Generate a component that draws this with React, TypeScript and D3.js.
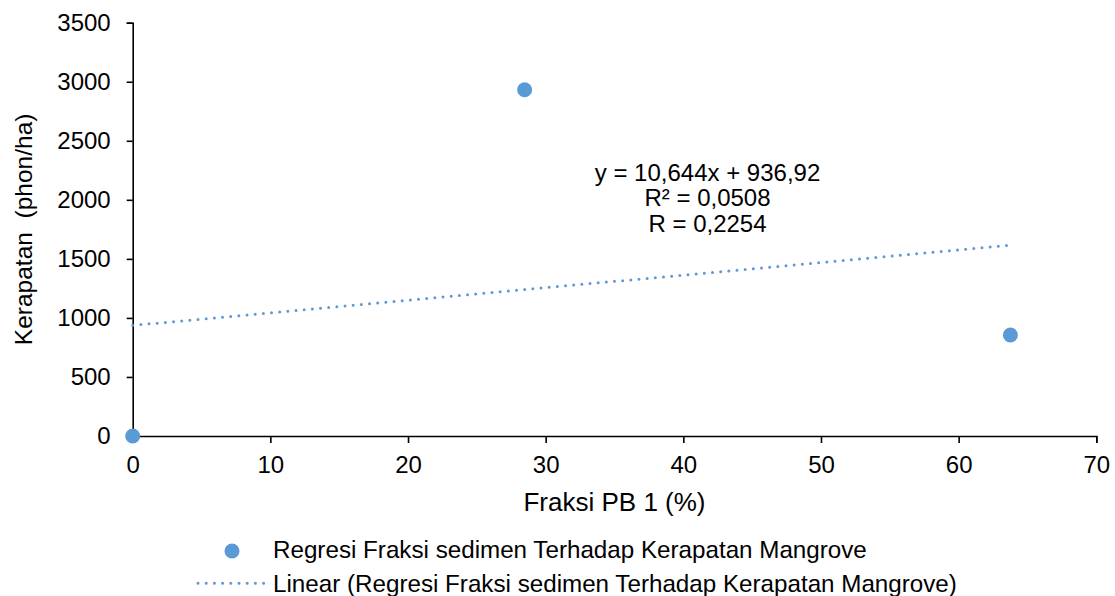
import React, { useEffect, useRef } from 'react';
import * as d3 from 'd3';

// values
const fraksiPB = [0, 28.47, 63.76];
const kerapatan = [0, 2932, 855];
const xTicks = [0, 10, 20, 30, 40, 50, 60, 70];
const yTicks = [0, 500, 1000, 1500, 2000, 2500, 3000, 3500];
const slope = 10.644;
const intercept = 936.92;
const equationLines = ['y = 10,644x + 936,92', 'R² = 0,0508', 'R = 0,2254'];
const legendLabels = [
    'Regresi Fraksi sedimen Terhadap Kerapatan Mangrove',
    'Linear (Regresi Fraksi sedimen Terhadap Kerapatan Mangrove)',
];

const WIDTH = 1115;
const HEIGHT = 596;
const FONT = '"Liberation Sans", Arial, sans-serif';
const BLUE = '#5B9BD5';

const App = () => {
    const svgRef = useRef<SVGSVGElement>(null);

    useEffect(() => {
        const svg = d3.select(svgRef.current);
        svg.selectAll('*').remove();

        const x = d3.scaleLinear().domain([0, 70]).range([132.7, 1096.3]);
        const y = d3.scaleLinear().domain([0, 3500]).range([436, 22.7]);

        // axes
        const xAxis = svg
            .append('g')
            .attr('transform', `translate(0,${y(0)})`)
            .call(
                d3.axisBottom(x).tickValues(xTicks).tickFormat(d3.format('d')).tickSize(7).tickPadding(13).tickSizeOuter(7)
            );
        const yAxis = svg
            .append('g')
            .attr('transform', `translate(${x(0)},0)`)
            .call(
                d3.axisLeft(y).tickValues(yTicks).tickFormat(d3.format('d')).tickSize(6).tickPadding(16).tickSizeOuter(6)
            );

        [xAxis, yAxis].forEach((g) => {
            g.attr('font-family', FONT).attr('font-size', 24);
            g.selectAll('path, line').attr('stroke', '#000').attr('stroke-width', 1.6);
            g.selectAll('text').attr('fill', '#000');
        });

        // trendline
        const xMax = d3.max(fraksiPB);
        const trend = [0, xMax].map((v) => [v, slope * v + intercept]);
        svg.append('path')
            .datum(trend)
            .attr('d', d3.line().x((d) => x(d[0])).y((d) => y(d[1])))
            .attr('fill', 'none')
            .attr('stroke', BLUE)
            .attr('stroke-width', 3)
            .attr('stroke-linecap', 'round')
            .attr('stroke-dasharray', '0 8.2');

        // points
        svg.append('g')
            .selectAll('circle')
            .data(fraksiPB)
            .enter()
            .append('circle')
            .attr('cx', (d) => x(d))
            .attr('cy', (d, i) => y(kerapatan[i]))
            .attr('r', 7.5)
            .attr('fill', BLUE);

        // equation label
        svg.append('text')
            .attr('x', 707.5)
            .attr('y', 180.7)
            .attr('text-anchor', 'middle')
            .attr('font-family', FONT)
            .attr('font-size', 24)
            .selectAll('tspan')
            .data(equationLines)
            .enter()
            .append('tspan')
            .attr('x', 707.5)
            .attr('dy', (d, i) => (i === 0 ? 0 : 25.5))
            .text((d) => d);

        // axis titles
        svg.append('text')
            .attr('x', (x(0) + x(70)) / 2)
            .attr('y', 510.7)
            .attr('text-anchor', 'middle')
            .attr('font-family', FONT)
            .attr('font-size', 26)
            .text('Fraksi PB 1 (%)');
        svg.append('text')
            .attr('transform', `translate(31.7,${(y(0) + y(3500)) / 2}) rotate(-90)`)
            .attr('text-anchor', 'middle')
            .attr('font-family', FONT)
            .attr('font-size', 24.5)
            .style('white-space', 'pre')
            .text('Kerapatan  (phon/ha)');

        // legend
        const legend = svg.append('g').attr('font-family', FONT).attr('font-size', 24.2);
        legend.append('circle').attr('cx', 232).attr('cy', 551).attr('r', 7.5).attr('fill', BLUE);
        legend.append('line')
            .attr('x1', 198)
            .attr('x2', 267)
            .attr('y1', 583.3)
            .attr('y2', 583.3)
            .attr('stroke', BLUE)
            .attr('stroke-width', 3)
            .attr('stroke-linecap', 'round')
            .attr('stroke-dasharray', '0 8.2');
        legend.selectAll('text.lbl')
            .data(legendLabels)
            .enter()
            .append('text')
            .attr('class', 'lbl')
            .attr('x', 273)
            .attr('y', (d, i) => 557.5 + i * 34.2)
            .text((d) => d);
    }, []);

    return (
        <svg
            ref={svgRef}
            width={WIDTH}
            height={HEIGHT}
            style={{ position: 'absolute', left: 0, top: 0, background: '#fff' }}
        />
    );
};

export default App;
